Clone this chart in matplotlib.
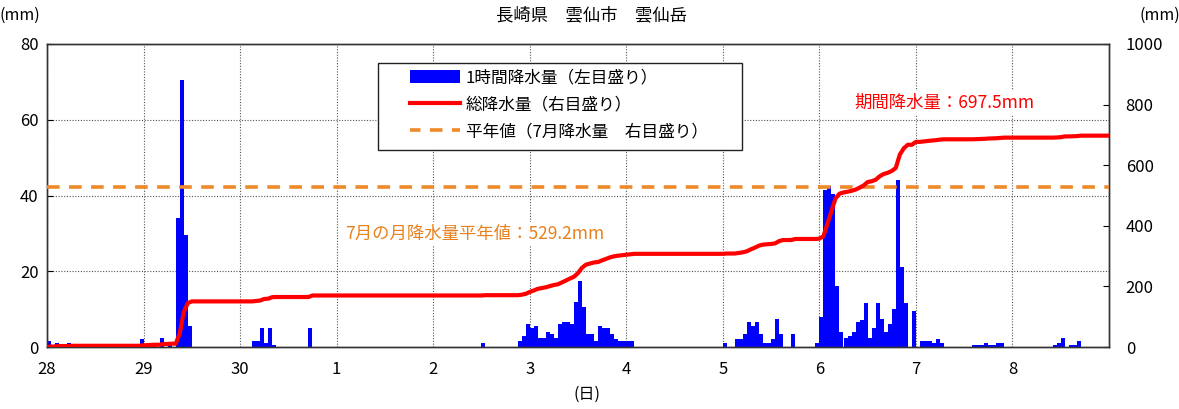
import numpy as np
import matplotlib
matplotlib.use('Agg')
import matplotlib.pyplot as plt
from matplotlib.patches import Patch, Rectangle
from matplotlib.lines import Line2D

plt.rcParams['font.family'] = ['Noto Sans CJK JP', 'DejaVu Sans']

# day labels (6/28 .. 7/8)
day_labels = ['28', '29', '30', '1', '2', '3', '4', '5', '6', '7', '8']

# hourly precipitation (mm), 24 values per day
rain_d28 = [1.5, 0.5, 1, 0, 0, 1, 0, 0, 0, 0, 0, 0, 0, 0, 0, 0, 0, 0, 0, 0, 0, 0, 0, 2]
rain_d29 = [0, 1, 0.5, 0, 2.5, 0, 1, 0, 34, 70.5, 29.5, 5.5, 0, 0, 0, 0, 0, 0, 0, 0, 0, 0, 0, 0]
rain_d30 = [0, 0, 0, 1.5, 1.5, 5, 1, 5, 0.5, 0, 0, 0, 0, 0, 0, 0, 0, 5, 0, 0, 0, 0, 0, 0]
rain_d01 = [0] * 24
rain_d02 = [0, 0, 0, 0, 0, 0, 0, 0, 0, 0, 0, 0, 1, 0, 0, 0, 0, 0, 0, 0, 0, 1.5, 3, 6]
rain_d03 = [5, 5.5, 2.5, 2.5, 4, 3.5, 2.5, 6, 6.5, 6.5, 6, 12, 17.5, 10.5, 3.5, 3.5, 1.5, 5.5, 5, 5, 3.5, 2, 1.5, 1.5]
rain_d04 = [1.5, 1.5, 0, 0, 0, 0, 0, 0, 0, 0, 0, 0, 0, 0, 0, 0, 0, 0, 0, 0, 0, 0, 0, 0]
rain_d05 = [1, 0, 0, 2, 2, 3.5, 6.5, 5.5, 6.5, 3.5, 1, 1, 2, 7.5, 3.5, 0, 0, 3.5, 0, 0, 0, 0, 0, 1]
rain_d06 = [8, 41.5, 42.5, 40.5, 16, 4, 2.5, 3, 4, 6.5, 7, 11.5, 2.5, 5, 11.5, 7.5, 4, 6, 10, 44, 21, 11.5, 0, 9.5]
rain_d07 = [0, 1.5, 1.5, 1.5, 1, 2, 1, 0, 0, 0, 0, 0, 0, 0, 0.5, 0.5, 0.5, 1, 0.5, 0.5, 1, 1, 0, 0]
rain_d08 = [0, 0, 0, 0, 0, 0, 0, 0, 0, 0, 0.5, 1, 2.5, 0, 0.5, 0.5, 1.5, 0, 0, 0, 0, 0, 0, 0]

normal_july = 529.2
period_total = 697.5

hourly = np.concatenate([rain_d28, rain_d29, rain_d30, rain_d01, rain_d02, rain_d03,
                         rain_d04, rain_d05, rain_d06, rain_d07, rain_d08])
hours = np.arange(len(hourly))
cum = np.concatenate([[0], np.cumsum(hourly)])
n_hours = len(hourly)

BLUE = '#0000FF'
RED = '#FF0000'
ORANGE = '#EE8A2A'

W, H = 1179, 409
fig = plt.figure(figsize=(W / 100, H / 100), dpi=100)
ax = fig.add_axes([47 / W, 1 - 347 / H, 1062 / W, 303 / H])

ax.bar(hours + 0.5, hourly, width=1.0, color=BLUE, linewidth=0, zorder=2)
ax.set_xlim(0, n_hours)
ax.set_ylim(0, 80)
ax.set_yticks([0, 20, 40, 60, 80])
ax.set_xticks(np.arange(0, n_hours, 24))
ax.set_xticklabels(day_labels)
ax.set_axisbelow(True)
ax.grid(True, color='#555555', linestyle=(0, (1, 1.5)), linewidth=0.8)
ax.tick_params(axis='y', direction='in', length=4, labelsize=12, pad=6)
ax.tick_params(axis='x', length=0, labelsize=12, pad=10)

ax2 = ax.twinx()
ax2.set_ylim(0, 1000)
ax2.set_yticks([0, 200, 400, 600, 800, 1000])
ax2.tick_params(axis='y', direction='in', length=4, labelsize=12, pad=12)
ax2.axhline(normal_july, color=ORANGE, linestyle=(0, (3.5, 2.6)), linewidth=2.6, zorder=3)
ax2.plot(np.arange(n_hours + 1), cum, color=RED, linewidth=3.0,
         solid_joinstyle='round', zorder=4)

for a in (ax, ax2):
    for s in a.spines.values():
        s.set_color('#333333')
        s.set_linewidth(1.0)

ax2.text(106.4, 373, '7月の月降水量平年値：529.2mm', color='#E8801E', fontsize=12.5,
         ha='center', va='center', zorder=5,
         bbox=dict(facecolor='white', edgecolor='none', pad=2))
ax2.text(223, 805, f'期間降水量：{period_total}mm', color=RED, fontsize=12.5,
         ha='center', va='center', zorder=5,
         bbox=dict(facecolor='white', edgecolor='none', pad=2))

# legend: frameless entries plus a separate box matching the reference frame
frame = Rectangle((378 / W, 1 - 150 / H), 364 / W, 87 / H, transform=fig.transFigure,
                  facecolor='white', edgecolor='#222222', linewidth=1.0, zorder=9)
fig.patches.append(frame)

handles = [Patch(facecolor=BLUE, edgecolor='none'),
           Line2D([0], [0], color=RED, linewidth=3.0),
           Line2D([0], [0], color=ORANGE, linestyle=(0.6, (3.5, 2.6)), linewidth=2.6)]
labels = ['1時間降水量（左目盛り）', '総降水量（右目盛り）', '平年値（7月降水量　右目盛り）']
leg = fig.legend(handles, labels, loc='upper left', bbox_to_anchor=(410 / W, 1 - 69 / H),
                 borderaxespad=0, borderpad=0, fontsize=12, frameon=False,
                 handlelength=3.0, handleheight=0.85, labelspacing=0.62,
                 handletextpad=0.35)
leg.set_zorder(10)

fig.text(592 / W, 1 - 15 / H, '長崎県　雲仙市　雲仙岳', ha='center', va='center', fontsize=12.5)
fig.text(20 / W, 1 - 15 / H, '(mm)', ha='center', va='center', fontsize=11.5)
fig.text(1160 / W, 1 - 15 / H, '(mm)', ha='center', va='center', fontsize=11.5)
fig.text(587 / W, 1 - 394 / H, '(日)', ha='center', va='center', fontsize=11.5)

fig.savefig('out.png', dpi=100)
